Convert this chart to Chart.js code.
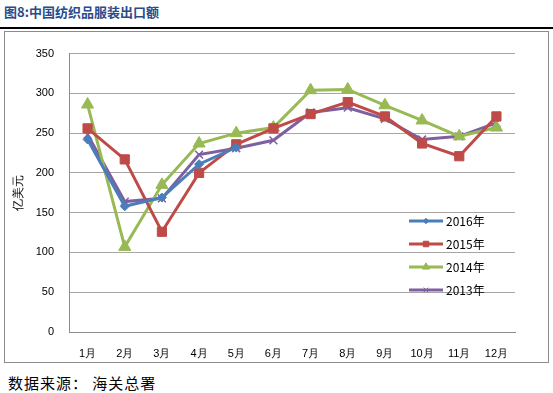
<!DOCTYPE html>
<html>
<head>
<meta charset="utf-8">
<script src="https://cdn.jsdelivr.net/npm/chart.js@4/dist/chart.umd.min.js"></script>
<style>
  body { margin: 0; width: 553px; height: 393px; background: #fff; position: relative; overflow: hidden; font-family: "Noto Sans CJK SC", sans-serif; }
  #titulo { position: absolute; left: 4px; top: 2px; font-size: 13px; font-weight: bold; color: #2B4C8C; }
  #linea { position: absolute; left: 0; top: 27px; width: 553px; height: 2px; background: #000; }
  #caja { position: absolute; left: 4px; top: 31px; width: 543px; height: 330px; border: 1px solid #8C8C8C; }
  #fuente { position: absolute; left: 8px; top: 372px; font-size: 15px; letter-spacing: 1px; color: #000; }
</style>
</head>
<body>
<div id="titulo">图8:中国纺织品服装出口额</div>
<div id="linea"></div>
<div id="caja"><canvas id="grafica" width="543" height="330"></canvas></div>
<div id="fuente">数据来源： 海关总署</div>
<script>
// Datos
const meses = ["1月", "2月", "3月", "4月", "5月", "6月", "7月", "8月", "9月", "10月", "11月", "12月"];
const serie2016 = [242, 158, 169, 211, 232];
const serie2015 = [256, 217, 126, 200, 236, 256, 274, 289, 271, 237, 221, 271];
const serie2014 = [286, 107, 185, 237, 250, 257, 304, 305, 285, 266, 246, 257];
const serie2013 = [248, 164, 168, 223, 231, 241, 276, 282, 268, 242, 246, 263];
const ticksY = [0, 50, 100, 150, 200, 250, 300, 350];

// Leyenda dentro del area
const leyendaInterna = {
  id: "leyendaInterna",
  afterDraw(chart) {
    const ctx = chart.ctx;
    const x0 = 404, x1 = 438;
    const filas = [189, 212, 235, 258];
    chart.data.datasets.forEach((ds, i) => {
      const y = filas[i];
      ctx.save();
      ctx.strokeStyle = ds.borderColor;
      ctx.lineWidth = 3;
      ctx.beginPath();
      ctx.moveTo(x0, y);
      ctx.lineTo(x1, y);
      ctx.stroke();
      if (Chart.helpers && Chart.helpers.drawPoint) {
        ctx.fillStyle = ds.pointBackgroundColor;
        ctx.strokeStyle = ds.pointBorderColor;
        ctx.lineWidth = 1;
        Chart.helpers.drawPoint(ctx, {
          pointStyle: ds.pointStyle,
          radius: ds.pointRadius * 0.6,
          rotation: 0,
          borderWidth: 1
        }, (x0 + x1) / 2, y);
      }
      ctx.fillStyle = "#000";
      ctx.font = "12px 'Noto Sans CJK SC', sans-serif";
      ctx.textBaseline = "middle";
      ctx.fillText(ds.label, x1 + 3, y);
      ctx.restore();
    });
  }
};

function serie(label, data, color, estilo, radio) {
  return {
    label: label,
    data: data,
    borderColor: color,
    backgroundColor: color,
    pointBackgroundColor: color,
    pointBorderColor: color,
    pointBorderWidth: estilo === "crossRot" ? 1.5 : 1,
    borderWidth: 3,
    pointStyle: estilo,
    pointRadius: radio,
    tension: 0
  };
}

new Chart(document.getElementById("grafica"), {
  type: "line",
  data: {
    labels: meses,
    datasets: [
      serie("2016年", serie2016, "#4A7EBB", "rectRot", 4.5),
      serie("2015年", serie2015, "#BE4B48", "rect", 6.5),
      serie("2014年", serie2014, "#98B954", "triangle", 7),
      serie("2013年", serie2013, "#7D60A0", "crossRot", 5.5)
    ]
  },
  options: {
    responsive: false,
    animation: false,
    layout: { padding: { top: 17, right: 33, left: 4, bottom: 0 } },
    plugins: {
      legend: { display: false },
      tooltip: { enabled: false }
    },
    scales: {
      x: {
        offset: true,
        grid: { display: false },
        border: { display: true, color: "#8C8C8C", width: 1 },
        ticks: { color: "#000", font: { size: 11 }, padding: 7, maxRotation: 0 },
        afterFit: (s) => { s.height = 30; }
      },
      y: {
        min: 0,
        max: 350,
        afterBuildTicks: (s) => { s.ticks = ticksY.map(v => ({ value: v })); },
        grid: { color: "#A6A6A6", lineWidth: 1, drawTicks: false },
        border: { display: true, color: "#8C8C8C", width: 1 },
        ticks: { color: "#000", font: { size: 11 }, padding: 15 },
        title: { display: true, text: "亿美元", color: "#000", font: { size: 12 }, padding: 2 },
        afterFit: (s) => { s.width = 60; }
      }
    }
  },
  plugins: [leyendaInterna]
});
</script>
</body>
</html>
